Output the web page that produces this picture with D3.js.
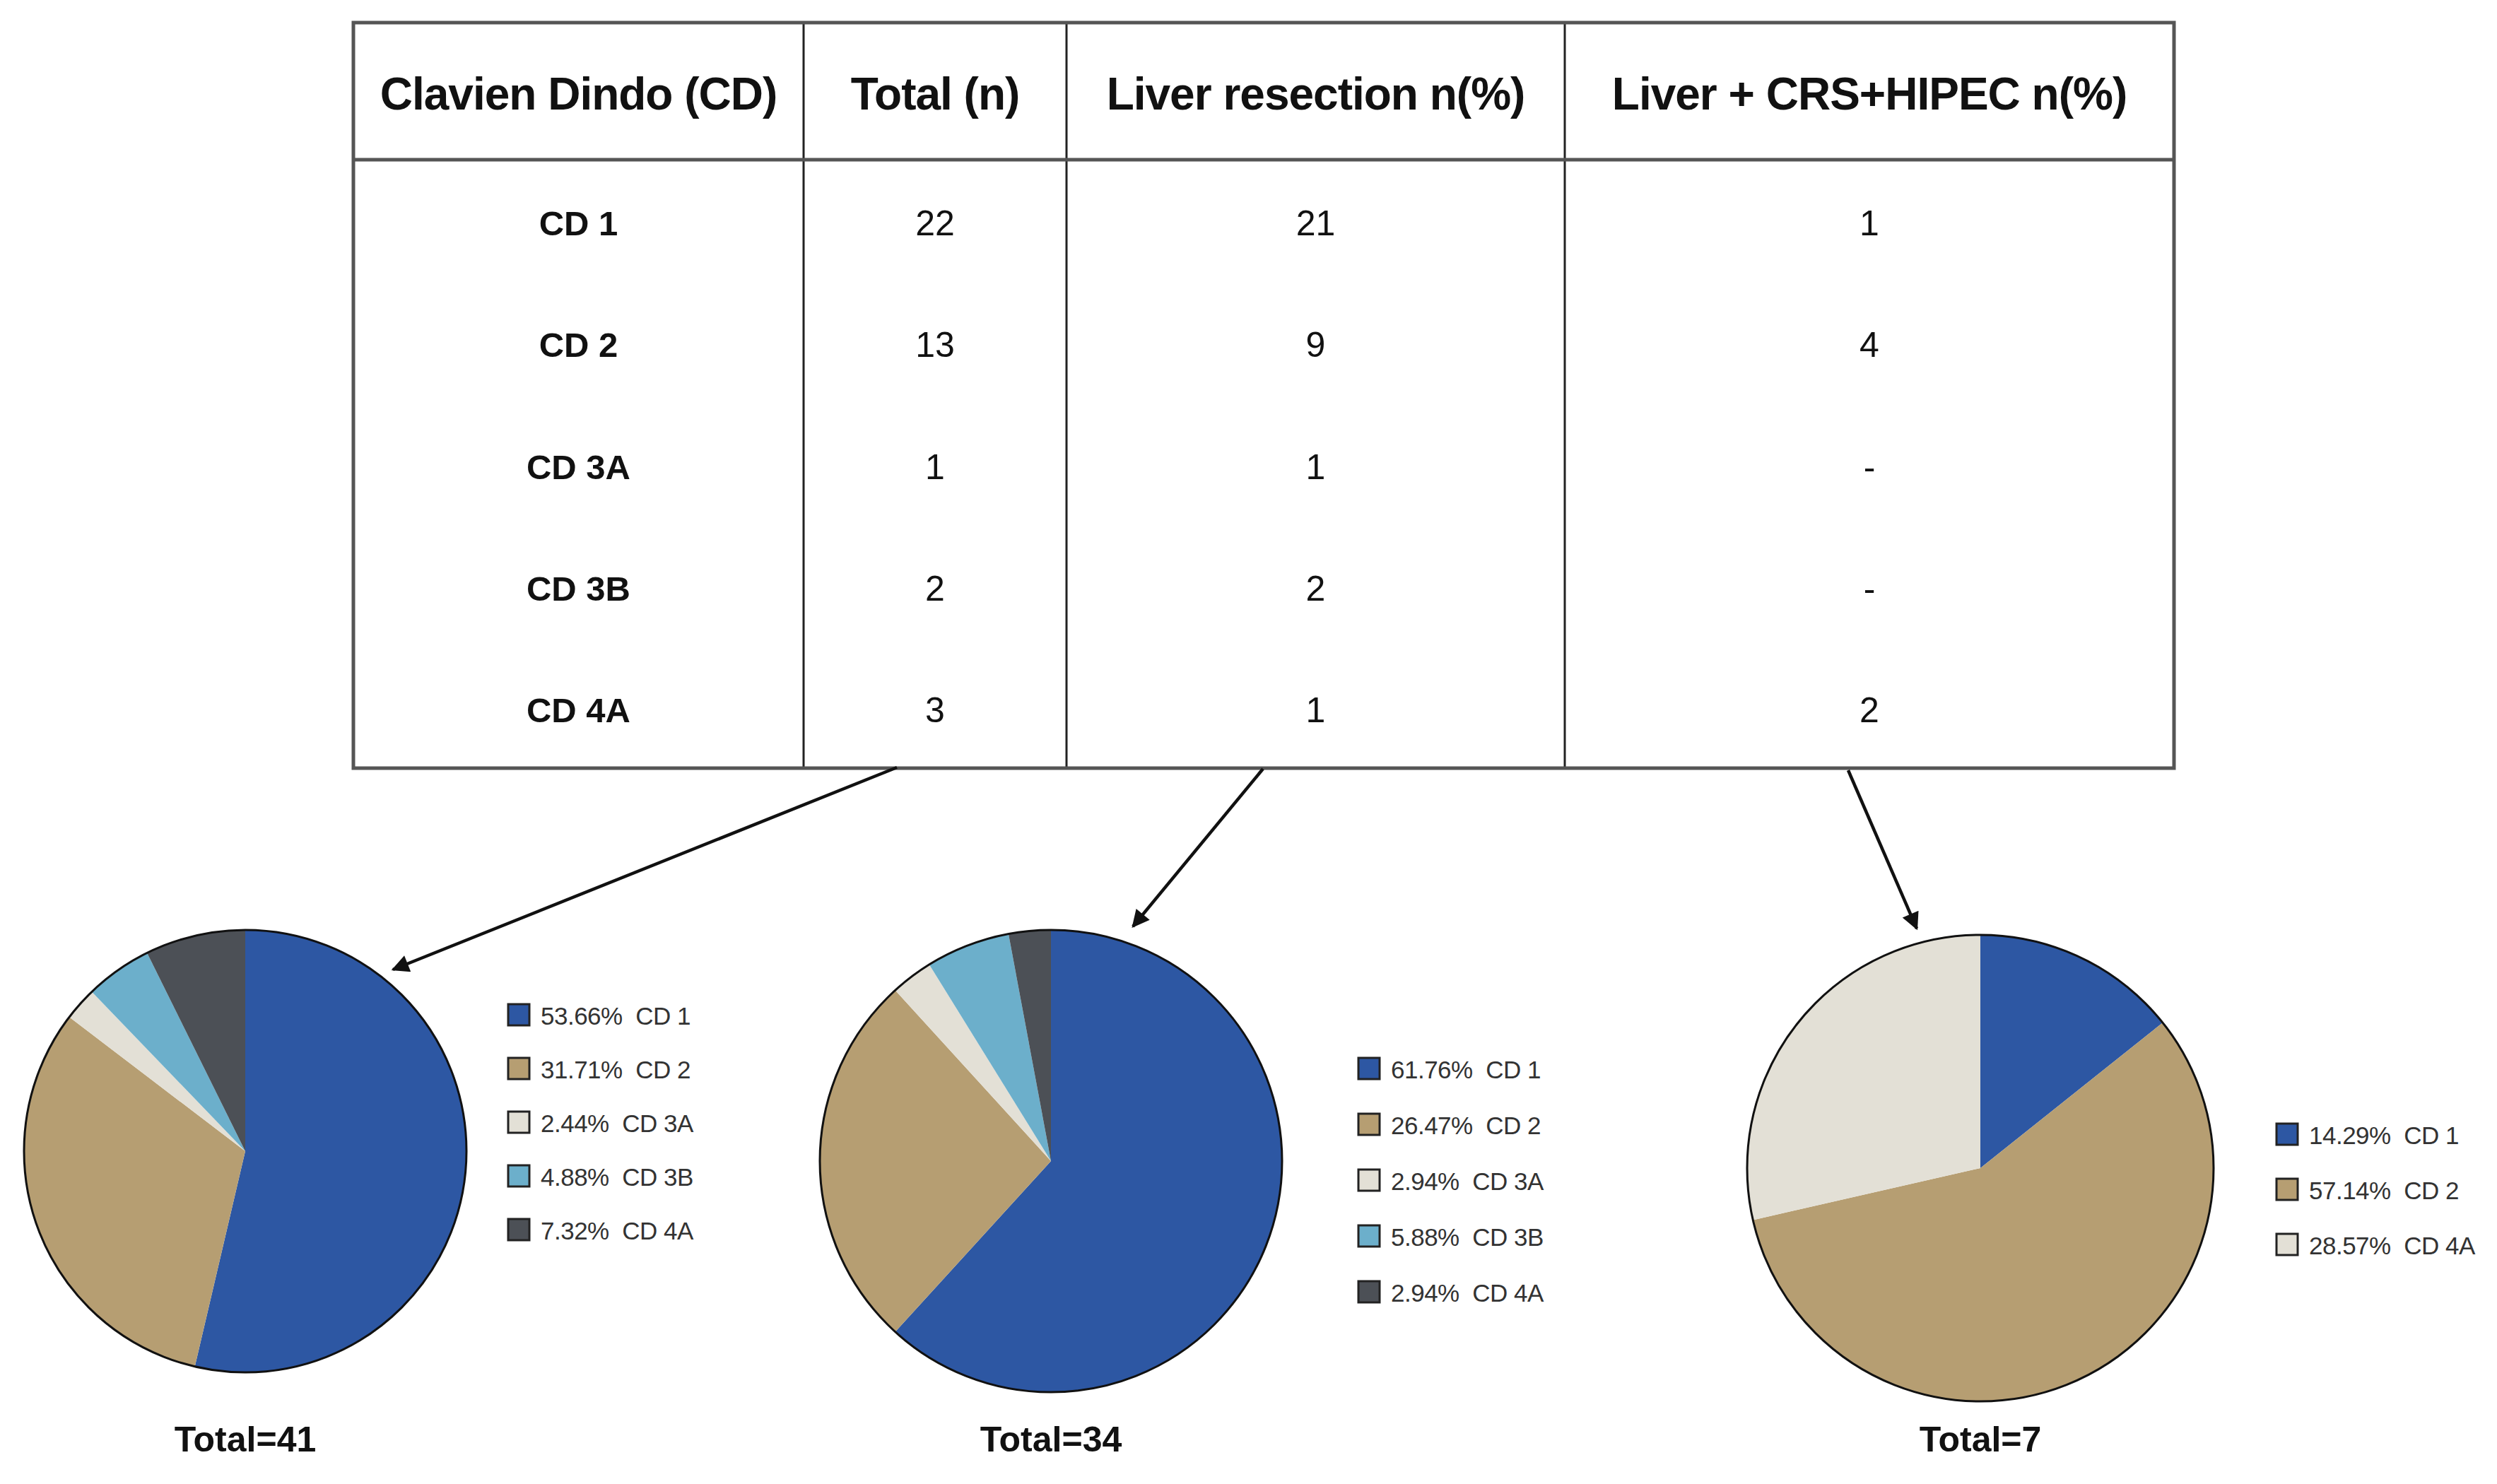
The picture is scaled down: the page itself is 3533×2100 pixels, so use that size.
<!DOCTYPE html>
<html>
<head>
<meta charset="utf-8">
<script src="https://cdn.jsdelivr.net/npm/d3@7"></script>
<style>
  html, body { margin: 0; padding: 0; background: #ffffff; }
  svg { display: block; }
  text { font-family: "Liberation Sans", Arial, sans-serif; }
</style>
</head>
<body>
<div id="chart"></div>
<script>
// table data
var headers = ["Clavien Dindo (CD)", "Total (n)", "Liver resection n(%)", "Liver + CRS+HIPEC n(%)"]
var grades = ["CD 1", "CD 2", "CD 3A", "CD 3B", "CD 4A"]
var totalN = [22, 13, 1, 2, 3]
var liverN = [21, 9, 1, 2, 1]
var liverCrsN = [1, 4, null, null, 2]

// slice colours, used in order of the slices of each pie
var sliceColors = ["#2d57a3", "#b69e72", "#e3e0d6", "#6cafcb", "#4c5056"]

// layout
var W = 3533, H = 2100
var colEdges = [500, 1137, 1509, 2214, 3076]
var tableTop = 32, headBottom = 226, tableBottom = 1087

var pieLayout = [
  {values: totalN,    cx: 347,  cy: 1629, r: 313, lx: 719,  ly: 1436, step: 76,
   arrow: [1269, 1086, 556, 1372]},
  {values: liverN,    cx: 1487, cy: 1643, r: 327, lx: 1922, ly: 1512, step: 79,
   arrow: [1787, 1088, 1603, 1311]},
  {values: liverCrsN, cx: 2802, cy: 1653, r: 330, lx: 3221, ly: 1605, step: 78,
   arrow: [2615, 1090, 2712, 1314]}
]

var svg = d3.select("#chart").append("svg")
            .attr("width", W)
            .attr("height", H)

// arrow marker
svg.append("defs").append("marker")
   .attr("id", "head")
   .attr("viewBox", "0 0 10 10")
   .attr("refX", 9).attr("refY", 5)
   .attr("markerWidth", 6.5).attr("markerHeight", 5.5)
   .attr("markerUnits", "strokeWidth")
   .attr("orient", "auto")
   .append("path")
   .attr("d", "M0,0 L10,5 L0,10 Z")
   .attr("fill", "#111")

// ---- table ----
var table = svg.append("g")

var yRow = d3.scaleBand()
             .domain(grades)
             .range([headBottom, tableBottom])

var colMid = colEdges.slice(0, -1).map((e, i) => (e + colEdges[i+1]) / 2)

// inner vertical lines
colEdges.slice(1, -1).forEach(x => {
  table.append("line")
       .attr("x1", x).attr("x2", x)
       .attr("y1", tableTop).attr("y2", tableBottom)
       .attr("stroke", "#222").attr("stroke-width", 3)
})

// outer border and header rule
table.append("rect")
     .attr("x", colEdges[0]).attr("y", tableTop)
     .attr("width", colEdges[4] - colEdges[0])
     .attr("height", tableBottom - tableTop)
     .attr("fill", "none")
     .attr("stroke", "#555").attr("stroke-width", 5)

table.append("line")
     .attr("x1", colEdges[0]).attr("x2", colEdges[4])
     .attr("y1", headBottom).attr("y2", headBottom)
     .attr("stroke", "#555").attr("stroke-width", 5)

// header text
table.selectAll(".head")
     .data(headers)
     .enter().append("text")
     .attr("class", "head")
     .attr("x", (d, i) => colMid[i])
     .attr("y", (tableTop + headBottom) / 2 + 4)
     .attr("text-anchor", "middle")
     .attr("dominant-baseline", "central")
     .attr("font-size", 64)
     .attr("font-weight", "bold")
     .attr("letter-spacing", -1)
     .attr("fill", "#111")
     .text(d => d)

// body
var cols = [grades, totalN, liverN, liverCrsN]
cols.forEach((col, c) => {
  table.selectAll(".c" + c)
       .data(col)
       .enter().append("text")
       .attr("class", "c" + c)
       .attr("x", colMid[c])
       .attr("y", (d, i) => yRow(grades[i]) + yRow.bandwidth() / 2 + 4)
       .attr("text-anchor", "middle")
       .attr("dominant-baseline", "central")
       .attr("font-size", c == 0 ? 49 : 50)
       .attr("font-weight", c == 0 ? "bold" : "normal")
       .attr("fill", "#111")
       .text(d => d == null ? "-" : d)
})

// ---- pies ----
var pie = d3.pie().sort(null).value(d => d.n)

pieLayout.forEach(p => {

  var items = grades.map((g, i) => ({grade: g, n: p.values[i]}))
                    .filter(d => d.n != null)
  var total = d3.sum(items, d => d.n)

  // arrow from table to pie
  svg.append("line")
     .attr("x1", p.arrow[0]).attr("y1", p.arrow[1])
     .attr("x2", p.arrow[2]).attr("y2", p.arrow[3])
     .attr("stroke", "#111").attr("stroke-width", 4.5)
     .attr("marker-end", "url(#head)")

  var g = svg.append("g").attr("transform", "translate(" + p.cx + "," + p.cy + ")")
  var arc = d3.arc().innerRadius(0).outerRadius(p.r)

  g.selectAll("path")
   .data(pie(items))
   .enter().append("path")
   .attr("d", arc)
   .attr("fill", (d, i) => sliceColors[i])

  g.append("circle")
   .attr("r", p.r)
   .attr("fill", "none")
   .attr("stroke", "#111").attr("stroke-width", 3)

  // total label
  svg.append("text")
     .attr("x", p.cx).attr("y", 2037)
     .attr("text-anchor", "middle")
     .attr("dominant-baseline", "central")
     .attr("font-size", 50)
     .attr("font-weight", "bold")
     .attr("fill", "#111")
     .text("Total=" + total)

  // legend
  var leg = svg.append("g")
  var rows = leg.selectAll("g")
                .data(items)
                .enter().append("g")
                .attr("transform", (d, i) => "translate(" + p.lx + "," + (p.ly + i * p.step) + ")")

  rows.append("rect")
      .attr("x", 0).attr("y", -15)
      .attr("width", 30).attr("height", 30)
      .attr("fill", (d, i) => sliceColors[i])
      .attr("stroke", "#222").attr("stroke-width", 3)

  rows.append("text")
      .attr("x", 46).attr("y", 1)
      .attr("dominant-baseline", "central")
      .attr("font-size", 35)
      .attr("letter-spacing", -0.5)
      .attr("fill", "#333")
      .style("white-space", "pre")
      .text(d => (d.n / total * 100).toFixed(2) + "%  " + d.grade)
})
</script>
</body>
</html>
